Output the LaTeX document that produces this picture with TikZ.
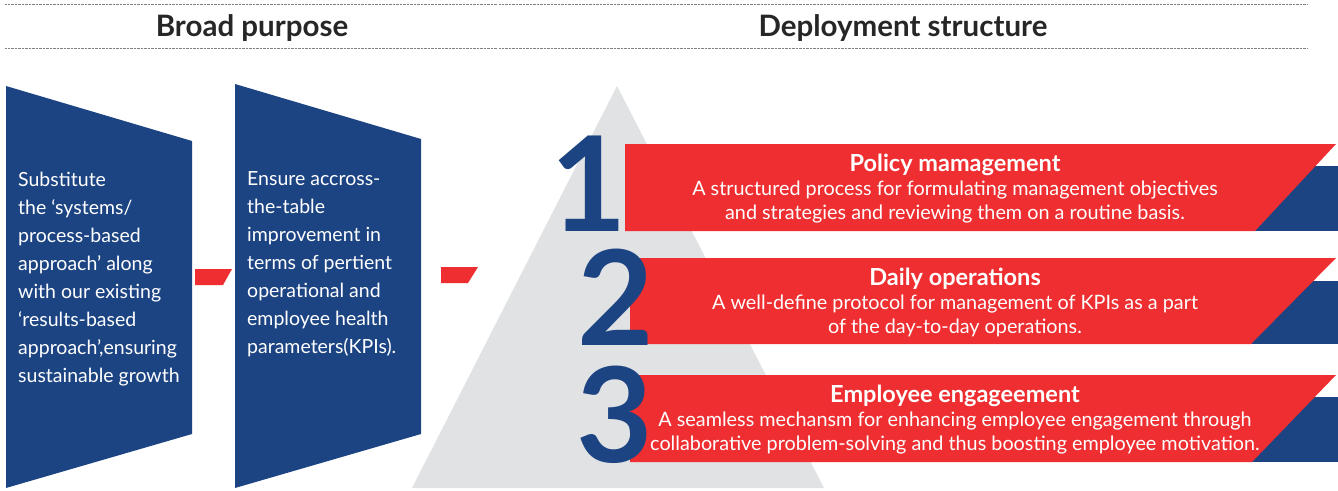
\documentclass[tikz,border=0pt]{standalone}
\usepackage{fontspec}
\setmainfont{Lato}
\usetikzlibrary{positioning}
\definecolor{kblue}{HTML}{1C4483}
\definecolor{kred}{HTML}{EE2E30}
\definecolor{kgray}{HTML}{E1E2E4}
\definecolor{kline}{HTML}{808080}
\begin{document}
\begin{tikzpicture}[x=1pt,y=-1pt]
	\tikzstyle{heading}=[anchor=base,inner sep=0pt,text=black!85,font=\fontsize{29.5}{32}\selectfont\bfseries]
	\tikzstyle{rule}=[draw=kline,line width=0.7pt,dash pattern=on 0.8pt off 0.6pt]
	\tikzstyle{purpose}=[anchor=north west,inner sep=0pt,text=white,align=left,font=\fontsize{19.5}{28}\selectfont]
	\tikzstyle{tab}=[fill=kred]
	\tikzstyle{bartitle}=[anchor=base,inner sep=0pt,text=white,font=\fontsize{23.5}{24}\selectfont\bfseries]
	\tikzstyle{bartext}=[anchor=north,inner sep=0pt,text=white,align=center,font=\fontsize{19.8}{24}\selectfont]
	\tikzstyle{digit}=[anchor=base,inner sep=0pt,text height=92pt,text depth=0pt,text=kblue,font=\fontsize{132}{132}\selectfont\bfseries]
	\useasboundingbox (0,0) rectangle (1338,490);
	
	% headings
	\draw[rule] (5,4) -- (497,4);
	\draw[rule] (499,4) -- (1308,4);
	\draw[rule] (5,48) -- (497,48);
	\draw[rule] (499,48) -- (1308,48);
	\node[heading] (broad) at (252,36) {Broad purpose};
	\node[heading] (deploy) at (903,36) {Deployment structure};
	
	% broad purpose
	\fill[kblue] (6,86) -- (192,141) -- (192,434) -- (6,488) -- cycle;
	\fill[kblue] (235,84) -- (421,139) -- (421,434) -- (235,488) -- cycle;
	\fill[tab] (195,269) -- (232,269) -- (223,285) -- (195,285) -- cycle;
	\fill[tab] (441,267) -- (478,267) -- (468,283) -- (441,283) -- cycle;
	\node[purpose] (substitute) at (18,172) {Substitute\\the `systems/\\process-based\\approach' along\\with our existing\\`results-based\\approach',ensuring\\sustainable growth};
	\node[purpose] (ensure) at (247,171.5) {Ensure accross-\\the-table\\improvement in\\terms of pertient\\operational and\\employee health\\parameters(KPIs).};
	
	% pyramid
	\fill[kgray] (617,86) -- (824,488) -- (412,488) -- cycle;
	
	% bars
	\fill[kblue] (1200,166) rectangle (1338,231);
	\fill[kblue] (1200,281) rectangle (1338,344);
	\fill[kblue] (1200,397) rectangle (1338,462);
	\fill[kred] (625,144) -- (1336,144) -- (1255,231) -- (625,231) -- cycle;
	\fill[kred] (630,258) -- (1336,258) -- (1251,344) -- (630,344) -- cycle;
	\fill[kred] (630,375) -- (1336,375) -- (1252,462) -- (630,462) -- cycle;
	
	\node[digit,anchor=base east] (one) at (627,231) {1};
	\node[digit] (two) at (616,345) {2};
	\node[digit] (three) at (615,462) {3};
	
	\node[bartitle] (policy) at (955,171) {Policy mamagement};
	\node[bartext] (policytxt) at (955,181) {A structured process for formulating management objectives\\and strategies and reviewing them on a routine basis.};
	\node[bartitle] (daily) at (955,285) {Daily operations};
	\node[bartext] (dailytxt) at (955,295) {A well-define protocol for management of KPIs as a part\\of the day-to-day operations.};
	\node[bartitle] (employee) at (955,402) {Employee engageement};
	\node[bartext] (employeetxt) at (955,412) {A seamless mechansm for enhancing employee engagement through\\collaborative problem-solving and thus boosting employee motivation.};
\end{tikzpicture}
\end{document}
